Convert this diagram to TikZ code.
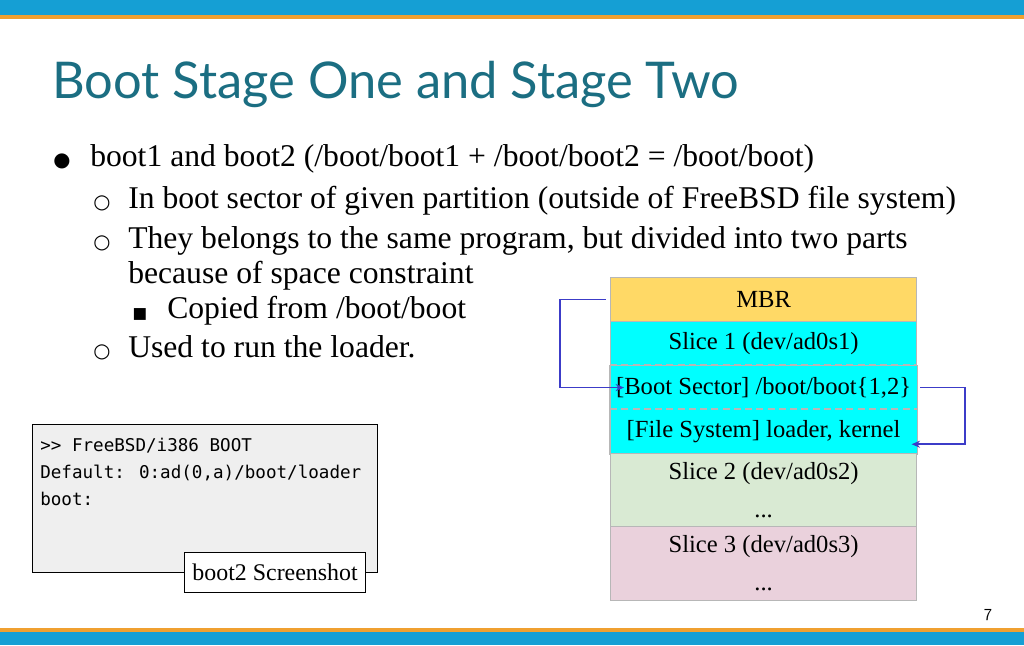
\documentclass[tikz,border=0pt]{standalone}
\usepackage{fontspec}
\setmainfont{Liberation Serif}
\newfontfamily\titlefont{Lato}
\newfontfamily\monofont{DejaVu Sans Mono}
\newfontfamily\symfont{DejaVu Sans}
\usetikzlibrary{positioning,arrows.meta}
\definecolor{barblue}{HTML}{159FD4}
\definecolor{barorange}{HTML}{F0A030}
\definecolor{titleteal}{HTML}{1B6E82}
\definecolor{mbrfill}{HTML}{FFD966}
\definecolor{slicefill}{HTML}{00FFFF}
\definecolor{twofill}{HTML}{D9EAD3}
\definecolor{threefill}{HTML}{EAD1DC}
\definecolor{edgegray}{HTML}{B7B7B7}
\definecolor{linkblue}{HTML}{3C3CC8}
\definecolor{shotgray}{HTML}{EFEFEF}
\tikzset{
  layer/.style={draw=edgegray,line width=0.8pt,minimum width=7.65cm,inner sep=0pt,anchor=north west,font=\fontsize{17.5}{21}\selectfont},
  link/.style={draw=linkblue,line width=1.2pt,-{Stealth[length=6pt,width=5pt]}},
  bodytext/.style={anchor=base west,inner sep=0pt,font=\fontsize{22.5}{27}\selectfont},
  dot/.style={anchor=base,font=\symfont\fontsize{14}{16}\selectfont},
}
\begin{document}
\begin{tikzpicture}[x=0.025cm,y=-0.025cm]
  \useasboundingbox (0,0) rectangle (1024,645);

  % Top and bottom bars
  \fill[barblue] (0,0) rectangle (1024,15);
  \fill[barorange] (0,15) rectangle (1024,19);
  \fill[barorange] (0,628) rectangle (1024,632);
  \fill[barblue] (0,632) rectangle (1024,645);

  % Title
  \node[anchor=base west,inner sep=0pt,text=titleteal,font=\titlefont\fontsize{36}{40}\selectfont] (title) at (52,98) {Boot Stage One and Stage Two};

  % Bullet list
  \node[dot] at (62,166) {●};
  \node[bodytext] (b1) at (90,166) {boot1 and boot2 (/boot/boot1 + /boot/boot2 = /boot/boot)};
  \node[dot] at (102,208) {○};
  \node[bodytext] (b2) at (128,208) {In boot sector of given partition (outside of FreeBSD file system)};
  \node[dot] at (102,248) {○};
  \node[bodytext] (b3) at (128,248) {They belongs to the same program, but divided into two parts};
  \node[bodytext] (b3b) at (128,283) {because of space constraint};
  \node[dot,font=\symfont\fontsize{11}{12}\selectfont] at (140,318) {■};
  \node[bodytext] (b4) at (167,318) {Copied from /boot/boot};
  \node[dot] at (102,357) {○};
  \node[bodytext] (b5) at (128,357) {Used to run the loader.};

  % Disk layout
  \node[layer,fill=mbrfill,minimum height=1.1cm] (mbr) at (610,277) {MBR};
  \node[layer,fill=slicefill,minimum height=1.1cm] (s1) at (610,321) {Slice 1 (dev/ad0s1)};
  \node[layer,fill=slicefill,minimum height=1.1cm,draw=none] (bs) at (610,365) {[Boot Sector] /boot/boot\{1,2\}};
  \node[layer,fill=slicefill,minimum height=1.1cm,draw=none] (fs) at (610,409) {[File System] loader, kernel};
  \draw[edgegray,line width=0.8pt] (bs.north west) -- (fs.south west) -- (fs.south east) -- (bs.north east);
  \draw[edgegray,line width=1pt,dash pattern=on 5pt off 3pt] (bs.north west) -- (bs.north east);
  \draw[edgegray,line width=1pt,dash pattern=on 5pt off 3pt] (fs.north west) -- (fs.north east);
  \node[layer,fill=twofill,minimum height=1.825cm,align=center] (s2) at (610,453) {Slice 2 (dev/ad0s2)\\[6pt]...};
  \node[layer,fill=threefill,minimum height=1.85cm,align=center] (s3) at (610,526) {Slice 3 (dev/ad0s3)\\[6pt]...};

  % Boot flow
  \draw[link] ([xshift=-3pt]mbr.west) -- ++(-46,0) |- ([xshift=10pt]bs.west);
  \draw[link] ([xshift=2pt]bs.east) -- ++(45,0) |- ([xshift=-4pt,yshift=-9pt]fs.east);

  % Screenshot
  \node[draw,line width=0.8pt,fill=shotgray,anchor=north west,minimum width=8.625cm,minimum height=3.7cm,inner sep=0pt] (shot) at (32,424) {};
  \node[anchor=north west,align=left,inner sep=0pt,font=\monofont\fontsize{12.5}{19}\selectfont] (console) at (40,438) {>> FreeBSD/i386 BOOT\\Default: 0:ad(0,a)/boot/loader\\boot:};
  \node[draw,fill=white,line width=0.8pt,anchor=north west,minimum width=4.525cm,minimum height=1cm,inner sep=0pt,font=\fontsize{17}{20}\selectfont] (caption) at (184,552) {boot2 Screenshot};

  % Page number
  \node[font=\fontsize{12}{14}\selectfont\sffamily] (page) at (988,615) {7};
\end{tikzpicture}
\end{document}
